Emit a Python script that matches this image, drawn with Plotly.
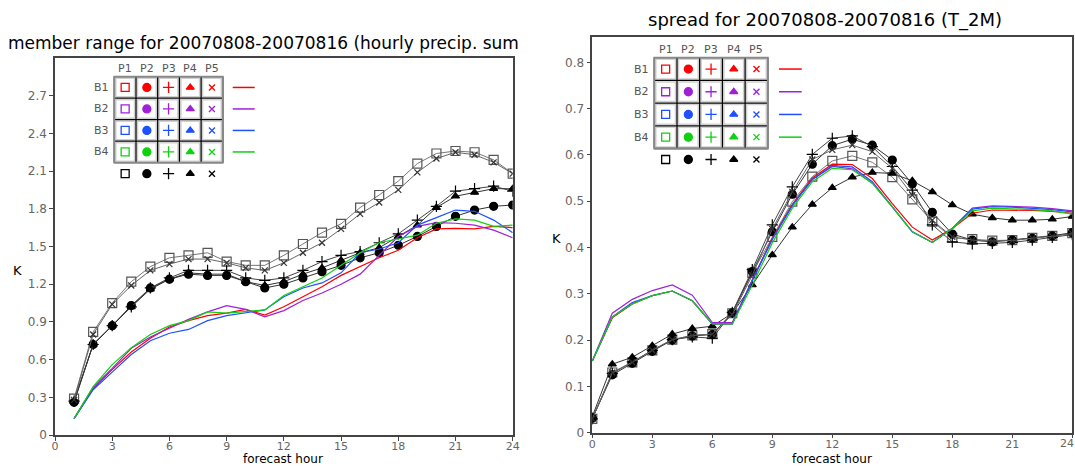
import plotly.graph_objects as go

W, H = 1075, 467

# ---------------- data: left panel (hourly precip. sum member range) ----------------
hours_l = list(range(1, 25))
l_p1_square = [0.29, 0.82, 1.05, 1.22, 1.34, 1.41, 1.43, 1.45, 1.38, 1.35, 1.35, 1.43,
               1.52, 1.61, 1.68, 1.81, 1.91, 2.02, 2.16, 2.24, 2.26, 2.25, 2.19, 2.08]
l_p2_circle = [0.26, 0.72, 0.87, 1.03, 1.17, 1.24, 1.28, 1.27, 1.27, 1.22, 1.17, 1.20,
               1.25, 1.30, 1.35, 1.41, 1.45, 1.51, 1.58, 1.66, 1.74, 1.79, 1.82, 1.83]
l_p3_plus = [0.27, 0.72, 0.87, 1.02, 1.17, 1.25, 1.31, 1.31, 1.31, 1.25, 1.23, 1.25,
             1.31, 1.38, 1.43, 1.46, 1.53, 1.60, 1.71, 1.82, 1.94, 1.96, 1.98, 1.94]
l_p4_triangle = [0.27, 0.72, 0.87, 1.02, 1.16, 1.24, 1.29, 1.28, 1.28, 1.22, 1.19, 1.22,
                 1.28, 1.33, 1.39, 1.45, 1.49, 1.58, 1.67, 1.81, 1.90, 1.93, 1.96, 1.96]
l_p5_x = [0.28, 0.80, 1.04, 1.19, 1.31, 1.36, 1.40, 1.40, 1.37, 1.33, 1.31, 1.37,
          1.45, 1.53, 1.64, 1.76, 1.85, 1.95, 2.09, 2.20, 2.25, 2.23, 2.17, 2.08]
l_b1_red = [0.13, 0.37, 0.52, 0.66, 0.77, 0.86, 0.91, 0.95, 0.97, 1.00, 0.955, 1.02,
            1.10, 1.18, 1.27, 1.34, 1.41, 1.47, 1.57, 1.64, 1.645, 1.64, 1.66, 1.65]
l_b2_purple = [0.13, 0.38, 0.53, 0.69, 0.78, 0.85, 0.92, 0.98, 1.03, 1.00, 0.94, 0.99,
               1.07, 1.13, 1.20, 1.28, 1.43, 1.58, 1.66, 1.69, 1.685, 1.67, 1.63, 1.57]
l_b3_blue = [0.13, 0.36, 0.50, 0.64, 0.75, 0.81, 0.84, 0.91, 0.95, 0.97, 0.995, 1.10,
             1.17, 1.21, 1.29, 1.45, 1.48, 1.53, 1.67, 1.73, 1.79, 1.78, 1.71, 1.61]
l_b4_green = [0.13, 0.385, 0.56, 0.695, 0.80, 0.87, 0.91, 0.98, 0.97, 0.98, 0.995, 1.11,
              1.18, 1.25, 1.35, 1.45, 1.53, 1.56, 1.59, 1.685, 1.72, 1.71, 1.66, 1.67]

# ---------------- data: right panel (T_2M spread) ----------------
hours_r = list(range(0, 25))
r_p1_square = [0.03, 0.13, 0.152, 0.178, 0.201, 0.21, 0.213, 0.258, 0.345, 0.423, 0.499, 0.553,
               0.587, 0.598, 0.584, 0.552, 0.504, 0.456, 0.421, 0.418, 0.415, 0.416, 0.421, 0.425, 0.431]
r_p2_circle = [0.031, 0.125, 0.150, 0.176, 0.200, 0.209, 0.212, 0.259, 0.348, 0.434, 0.515, 0.580,
               0.620, 0.634, 0.621, 0.589, 0.537, 0.476, 0.429, 0.416, 0.412, 0.416, 0.420, 0.425, 0.432]
r_p3_plus = [0.03, 0.128, 0.153, 0.178, 0.201, 0.207, 0.204, 0.260, 0.352, 0.449, 0.531, 0.601,
             0.636, 0.641, 0.618, 0.575, 0.524, 0.449, 0.412, 0.408, 0.409, 0.411, 0.416, 0.422, 0.428]
r_p4_triangle = [0.035, 0.148, 0.163, 0.188, 0.213, 0.225, 0.230, 0.258, 0.319, 0.384, 0.444, 0.493,
                 0.529, 0.552, 0.562, 0.560, 0.544, 0.520, 0.492, 0.472, 0.464, 0.459, 0.459, 0.461, 0.467]
r_p5_x = [0.03, 0.13, 0.152, 0.178, 0.201, 0.21, 0.213, 0.255, 0.340, 0.440, 0.520, 0.590,
          0.611, 0.621, 0.607, 0.571, 0.513, 0.459, 0.423, 0.416, 0.414, 0.415, 0.420, 0.424, 0.430]
r_b1_red = [0.155, 0.248, 0.278, 0.296, 0.306, 0.285, 0.235, 0.235, 0.330, 0.420, 0.493, 0.550,
            0.580, 0.579, 0.549, 0.495, 0.444, 0.416, 0.441, 0.474, 0.481, 0.481, 0.480, 0.478, 0.474]
r_b2_purple = [0.155, 0.258, 0.288, 0.307, 0.319, 0.297, 0.238, 0.238, 0.330, 0.418, 0.491, 0.547,
               0.575, 0.570, 0.539, 0.488, 0.434, 0.411, 0.441, 0.485, 0.490, 0.489, 0.487, 0.484, 0.479]
r_b3_blue = [0.155, 0.250, 0.281, 0.296, 0.306, 0.285, 0.235, 0.235, 0.328, 0.418, 0.491, 0.547,
             0.577, 0.574, 0.542, 0.488, 0.434, 0.411, 0.441, 0.483, 0.488, 0.487, 0.485, 0.482, 0.477]
r_b4_green = [0.155, 0.250, 0.278, 0.296, 0.306, 0.285, 0.235, 0.235, 0.319, 0.410, 0.485, 0.542,
              0.571, 0.568, 0.539, 0.488, 0.434, 0.411, 0.441, 0.479, 0.485, 0.484, 0.482, 0.479, 0.472]

x_ticks = [0, 3, 6, 9, 12, 15, 18, 21, 24]
y_ticks_l = [0, 0.3, 0.6, 0.9, 1.2, 1.5, 1.8, 2.1, 2.4, 2.7]
y_ticks_r = [0, 0.1, 0.2, 0.3, 0.4, 0.5, 0.6, 0.7, 0.8]
col_labels = ["P1", "P2", "P3", "P4", "P5"]
row_labels = ["B1", "B2", "B3", "B4"]

# ---------------- styles ----------------
COL = {"B1": "#ff0000", "B2": "#a020d8", "B3": "#1e50ff", "B4": "#10d010"}
SYM = ["square-open", "circle", "cross-thin-open", "triangle-up", "x-thin-open"]
MSIZE = [9, 8, 8, 7, 6]
BLACK_LINE = ["#777777", "#333333", "#444444", "#333333", "#666666"]
MARK_COL = ["#555555", "#000000", "#000000", "#000000", "#333333"]

FONT = "DejaVu Sans"
TICKFONT = dict(family=FONT, size=12, color="#666666")
XTICKFONT = dict(family=FONT, size=11, color="#666666")

fig = go.Figure()

def add_panel(xa, ya, hours, black_series, color_series):
    for i, ys in enumerate(black_series):
        fig.add_trace(go.Scatter(
            x=hours, y=ys, xaxis=xa, yaxis=ya, mode="lines+markers",
            line=dict(color=BLACK_LINE[i], width=1),
            marker=dict(symbol=SYM[i], size=MSIZE[i], color=MARK_COL[i],
                        line=dict(color=MARK_COL[i], width=1.2)),
            showlegend=False, hoverinfo="skip"))
    for name, ys in color_series:
        fig.add_trace(go.Scatter(
            x=hours, y=ys, xaxis=xa, yaxis=ya, mode="lines",
            line=dict(color=COL[name], width=1.2),
            showlegend=False, hoverinfo="skip"))

add_panel("x", "y", hours_l,
          [l_p1_square, l_p2_circle, l_p3_plus, l_p4_triangle, l_p5_x],
          [("B1", l_b1_red), ("B2", l_b2_purple), ("B3", l_b3_blue), ("B4", l_b4_green)])
add_panel("x2", "y2", hours_r,
          [r_p1_square, r_p2_circle, r_p3_plus, r_p4_triangle, r_p5_x],
          [("B1", r_b1_red), ("B2", r_b2_purple), ("B3", r_b3_blue), ("B4", r_b4_green)])

# ---------------- legend tables (drawn in an overlay pixel-space axis) ----------------
shapes = []
annotations = []

def legend_table(x0, y0, cell_w, cell_h, line_x0, line_x1, fs):
    ncol, nrow = len(col_labels), len(row_labels)
    x1 = x0 + ncol * cell_w
    y1 = y0 + nrow * cell_h
    for r in range(nrow):
        for c in range(ncol):
            cx0 = x0 + c * cell_w
            cy0 = y0 + r * cell_h
            shapes.append(dict(type="rect", xref="x3", yref="y3",
                               x0=cx0 + 1.5, x1=cx0 + cell_w - 1.5,
                               y0=cy0 + 1.5, y1=cy0 + cell_h - 1.5,
                               line=dict(color="#d0d0d0", width=1.5), layer="below"))
    for c in range(ncol + 1):
        xx = x0 + c * cell_w
        shapes.append(dict(type="line", xref="x3", yref="y3", x0=xx, x1=xx, y0=y0, y1=y1,
                           line=dict(color="#000000", width=1.3)))
    for r in range(nrow + 1):
        yy = y0 + r * cell_h
        shapes.append(dict(type="line", xref="x3", yref="y3", x0=x0, x1=x1, y0=yy, y1=yy,
                           line=dict(color="#000000", width=1.3)))
    shapes.append(dict(type="rect", xref="x3", yref="y3", x0=x0, x1=x1, y0=y0, y1=y1,
                       line=dict(color="#888888", width=1.8)))
    for c, lab in enumerate(col_labels):
        annotations.append(dict(x=x0 + (c + 0.5) * cell_w, y=y0 - 8, xref="x3", yref="y3",
                                text=lab, showarrow=False,
                                font=dict(family=FONT, size=fs, color="#555555")))
    for r, lab in enumerate(row_labels):
        annotations.append(dict(x=x0 - 3, y=y0 + (r + 0.5) * cell_h, xref="x3", yref="y3",
                                text=lab, showarrow=False, xanchor="right",
                                font=dict(family=FONT, size=fs, color="#555555")))
    for r, lab in enumerate(row_labels):
        cy = y0 + (r + 0.5) * cell_h
        for c in range(ncol):
            fig.add_trace(go.Scatter(
                x=[x0 + (c + 0.5) * cell_w], y=[cy], xaxis="x3", yaxis="y3", mode="markers",
                marker=dict(symbol=SYM[c], size=[8, 8, 8, 7, 6][c], color=COL[lab],
                            line=dict(color=COL[lab], width=1.3)),
                showlegend=False, hoverinfo="skip"))
        fig.add_trace(go.Scatter(
            x=[line_x0, line_x1], y=[cy, cy], xaxis="x3", yaxis="y3", mode="lines",
            line=dict(color=COL[lab], width=1.5), showlegend=False, hoverinfo="skip"))
    by = y1 + 11
    for c in range(ncol):
        fig.add_trace(go.Scatter(
            x=[x0 + (c + 0.5) * cell_w], y=[by], xaxis="x3", yaxis="y3", mode="markers",
            marker=dict(symbol=SYM[c], size=[8, 8, 8, 7, 6][c], color="#000000",
                        line=dict(color="#000000", width=1.3)),
            showlegend=False, hoverinfo="skip"))

legend_table(114.3, 76.7, 21.7, 21.5, 232.7, 254.7, 11)
legend_table(654.3, 57.7, 22.7, 22.7, 779.0, 801.7, 11)

# ---------------- titles & axis labels ----------------
annotations += [
    dict(x=6, y=43, xref="x3", yref="y3", xanchor="left",
         text="member range for 20070808-20070816 (hourly precip. sum",
         showarrow=False, font=dict(family=FONT, size=17, color="#000000")),
    dict(x=825, y=20, xref="x3", yref="y3", text="spread for 20070808-20070816 (T_2M)",
         showarrow=False, font=dict(family=FONT, size=18, color="#000000")),
    dict(x=283, y=467, xref="x3", yref="y3", yanchor="bottom", borderpad=0, text="forecast hour",
         showarrow=False, font=dict(family=FONT, size=12, color="#000000")),
    dict(x=832, y=467, xref="x3", yref="y3", yanchor="bottom", borderpad=0, text="forecast hour",
         showarrow=False, font=dict(family=FONT, size=12, color="#000000")),
    dict(x=17, y=270, xref="x3", yref="y3", text="K",
         showarrow=False, font=dict(family=FONT, size=13, color="#000000")),
    dict(x=556, y=238, xref="x3", yref="y3", text="K",
         showarrow=False, font=dict(family=FONT, size=13, color="#000000")),
    # last x tick label of the right panel sits on the page edge; plotly hides it, so place it explicitly
    dict(x=1075, y=436, xref="x3", yref="y3", xanchor="right", yanchor="top", borderpad=0,
         text=str(x_ticks[-1]), showarrow=False, font=XTICKFONT),
]

axis_common = dict(showgrid=False, zeroline=False, showline=True, mirror=True,
                   linecolor="#444444", linewidth=1.5, ticks="outside", ticklen=4,
                   tickcolor="#444444", automargin=False)

fig.update_layout(
    width=W, height=H, margin=dict(l=0, r=0, t=0, b=0, autoexpand=False),
    paper_bgcolor="white", plot_bgcolor="rgba(0,0,0,0)", showlegend=False,
    xaxis=dict(domain=[55 / W, 512.7 / W], range=[0, 24], tickvals=x_ticks, anchor="y",
               tickfont=XTICKFONT, ticklabelstandoff=-4, **axis_common),
    yaxis=dict(domain=[(H - 435) / H, (H - 58) / H], range=[0, 3.0], tickvals=y_ticks_l,
               ticktext=[("%g" % v) for v in y_ticks_l], anchor="x", tickfont=TICKFONT, **axis_common),
    xaxis2=dict(domain=[592.3 / W, 1072.3 / W], range=[0, 24], tickvals=x_ticks, anchor="y2",
                tickfont=XTICKFONT, ticklabelstandoff=-4, **axis_common),
    yaxis2=dict(domain=[(H - 432.7) / H, (H - 37.3) / H], range=[0, 0.854], tickvals=y_ticks_r,
                ticktext=[("%g" % v) for v in y_ticks_r], anchor="x2", tickfont=TICKFONT, **axis_common),
    xaxis3=dict(domain=[0, 1], range=[0, W], visible=False, fixedrange=True, anchor="y3", automargin=False),
    yaxis3=dict(domain=[0, 1], range=[H, 0], visible=False, fixedrange=True, anchor="x3", automargin=False),
    shapes=shapes, annotations=annotations,
)

fig.write_html("out.html", config={"displayModeBar": False},
               post_script="document.body.style.margin='0';document.documentElement.style.overflow='hidden';")
